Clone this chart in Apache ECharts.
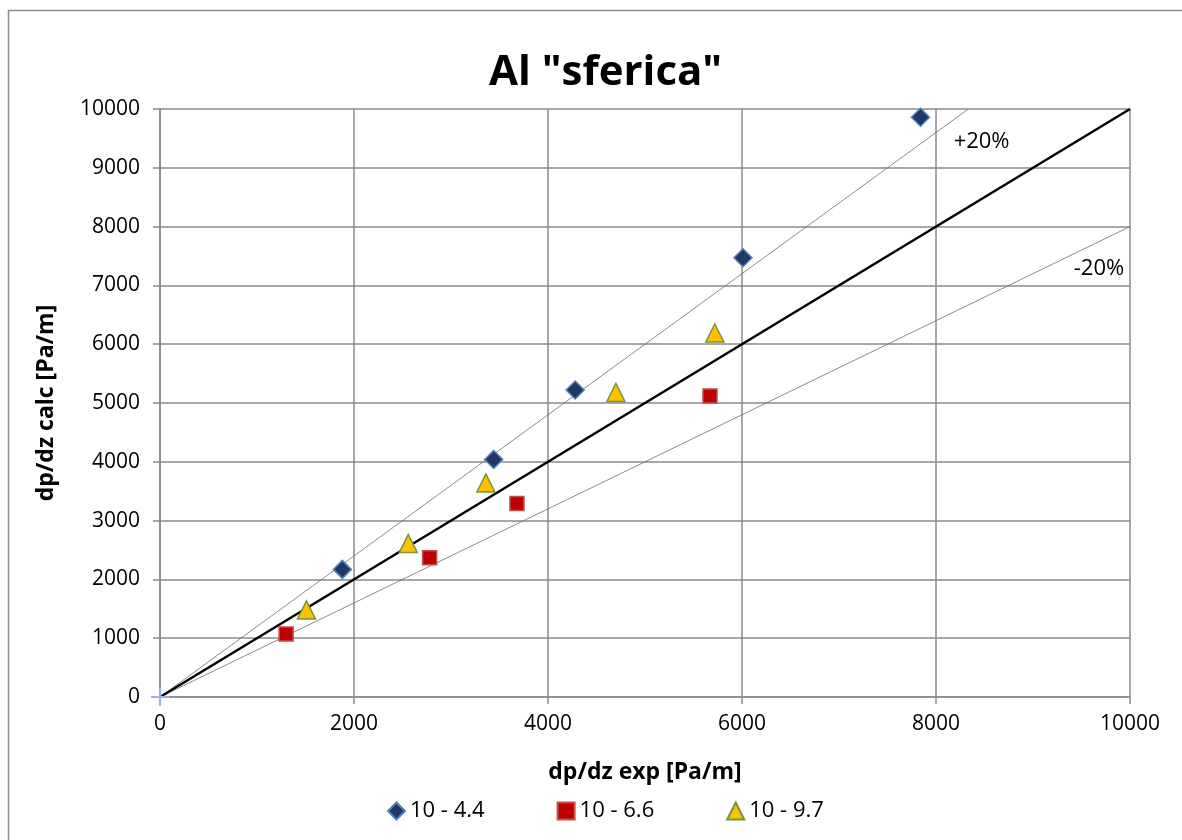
<!DOCTYPE html>
<html>
<head>
<meta charset="utf-8">
<script src="https://cdn.jsdelivr.net/npm/echarts@6/dist/echarts.min.js"></script>
<style>html,body{margin:0;padding:0;background:#fff}#c{width:1182px;height:840px}</style>
</head>
<body>
<div id="c"></div>
<script>
const titleText = 'Al "sferica"';
const xName = 'dp/dz exp [Pa/m]';
const yName = 'dp/dz calc [Pa/m]';
const seriesNames = ['10 - 4.4', '10 - 6.6', '10 - 9.7'];
const s44 = [[1880, 2170], [3440, 4040], [4280, 5220], [6010, 7470], [7840, 9860]];
const s66 = [[1300, 1070], [2780, 2370], [3680, 3290], [5670, 5120]];
const s97 = [[1510, 1480], [2560, 2610], [3360, 3640], [4700, 5180], [5720, 6190]];
const lineExact = [[0, 0], [10000, 10000]];
const linePlus20 = [[0, 0], [8333.3, 10000]];
const lineMinus20 = [[0, 0], [10000, 8000]];
const originPoint = [[0, 0]];
const bandLabels = [{text: '+20%', x: 8470, y: 9450}, {text: '-20%', x: 9680, y: 7280}];

const font = '"Open Sans", "Noto Sans", sans-serif';
const chart = echarts.init(document.getElementById('c'), null, {renderer: 'canvas'});
const gridColor = '#8a8a8a';

chart.setOption({
  animation: false,
  backgroundColor: '#fff',
  graphic: [{
    type: 'rect', shape: {x: 8.5, y: 10.5, width: 1200, height: 900},
    style: {fill: 'none', stroke: '#8c8c8c', lineWidth: 1.5}, silent: true, z: -1
  }],
  title: {
    text: titleText, left: 484, top: 47,
    textStyle: {fontFamily: font, fontSize: 42, fontWeight: 'bold', color: '#000'}
  },
  legend: {
    top: 795, left: 382, itemGap: 72, itemWidth: 17, itemHeight: 17,
    textStyle: {fontFamily: font, fontSize: 22, color: '#000'},
    data: [
      {name: seriesNames[0], icon: 'diamond'},
      {name: seriesNames[1], icon: 'rect'},
      {name: seriesNames[2], icon: 'triangle'}
    ]
  },
  grid: {left: 160, right: 52, top: 109, bottom: 143, containLabel: false},
  xAxis: {
    type: 'value', min: 0, max: 10000, interval: 2000,
    name: xName, nameLocation: 'middle', nameGap: 64,
    nameTextStyle: {fontFamily: font, fontSize: 23, fontWeight: 'bold', color: '#000'},
    axisLine: {show: true, lineStyle: {color: gridColor, width: 1.5}},
    axisTick: {show: true, length: 7, lineStyle: {color: gridColor, width: 1.5}},
    axisLabel: {fontFamily: font, fontSize: 21, color: '#000', margin: 17, formatter: v => String(v)},
    splitLine: {show: true, lineStyle: {color: gridColor, width: 1.5}}
  },
  yAxis: {
    type: 'value', min: 0, max: 10000, interval: 1000,
    name: yName, nameLocation: 'middle', nameGap: 102, nameRotate: 90,
    nameTextStyle: {fontFamily: font, fontSize: 23, fontWeight: 'bold', color: '#000'},
    axisLine: {show: true, lineStyle: {color: gridColor, width: 1.5}},
    axisTick: {show: true, length: 7, lineStyle: {color: gridColor, width: 1.5}},
    axisLabel: {fontFamily: font, fontSize: 21, color: '#000', margin: 20, formatter: v => String(v)},
    splitLine: {show: true, lineStyle: {color: gridColor, width: 1.5}}
  },
  series: [
    {type: 'line', data: linePlus20, symbol: 'none', silent: true,
     lineStyle: {color: '#6e6e6e', width: 0.8}, z: 2},
    {type: 'line', data: lineMinus20, symbol: 'none', silent: true,
     lineStyle: {color: '#6e6e6e', width: 0.8}, z: 2},
    {type: 'line', data: lineExact, symbol: 'none', silent: true,
     lineStyle: {color: '#000', width: 2.5}, z: 3,
     markPoint: {
       symbol: 'rect', symbolSize: 1, silent: true,
       itemStyle: {color: 'rgba(255,255,255,0)'},
       label: {show: true, position: 'inside', fontFamily: font, fontSize: 22, color: '#000', opacity: 1,
               formatter: p => p.name},
       data: bandLabels.map(d => ({name: d.text, coord: [d.x, d.y]}))
     }},
    {type: 'scatter', data: originPoint, silent: true,
     symbol: 'path://M-1.2,-10L1.2,-10L1.2,-1.2L10,-1.2L10,1.2L1.2,1.2L1.2,10L-1.2,10L-1.2,1.2L-10,1.2L-10,-1.2L-1.2,-1.2Z',
     symbolSize: 18, itemStyle: {color: '#9ab5dc', opacity: 1}, z: 6},
    {name: seriesNames[0], type: 'scatter', data: s44, symbol: 'diamond', symbolSize: 18,
     itemStyle: {color: '#1f3864', borderColor: '#4f81bd', borderWidth: 1.5, opacity: 1}, z: 5},
    {name: seriesNames[1], type: 'scatter', data: s66, symbol: 'rect', symbolSize: 14,
     itemStyle: {color: '#c00000', borderColor: '#c0504d', borderWidth: 1.5, opacity: 1}, z: 5},
    {name: seriesNames[2], type: 'scatter', data: s97, symbol: 'triangle', symbolSize: 18,
     itemStyle: {color: '#ffc000', borderColor: '#77933c', borderWidth: 1.5, opacity: 1}, z: 5}
  ]
});
</script>
</body>
</html>
